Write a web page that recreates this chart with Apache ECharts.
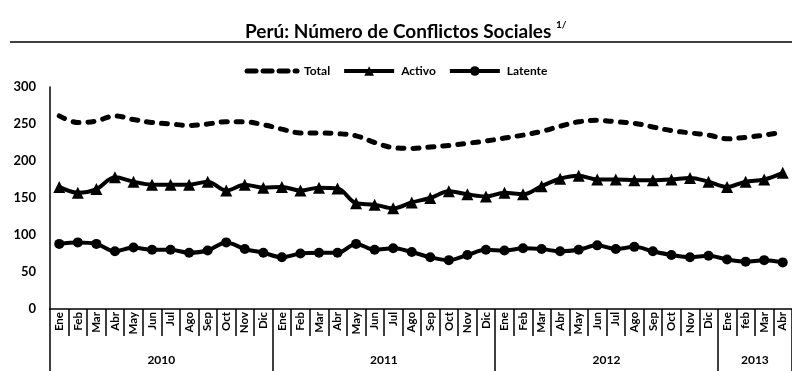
<!DOCTYPE html>
<html>
<head>
<meta charset="utf-8">
<script src="https://cdn.jsdelivr.net/npm/echarts@6/dist/echarts.min.js"></script>
<style>
  html, body { margin: 0; padding: 0; background: #fff; }
  #chart { width: 792px; height: 371px; }
</style>
</head>
<body>
<div id="chart"></div>
<script>
// Month labels, January 2010 to April 2013
const monthLabels = [
  'Ene','Feb','Mar','Abr','May','Jun','Jul','Ago','Sep','Oct','Nov','Dic',
  'Ene','Feb','Mar','Abr','May','Jun','Jul','Ago','Sep','Oct','Nov','Dic',
  'Ene','Feb','Mar','Abr','May','Jun','Jul','Ago','Sep','Oct','Nov','Dic',
  'Ene','feb','Mar','Abr'
];
const years = ['2010', '2011', '2012', '2013'];
const monthsPerYear = [12, 12, 12, 4];

// Number of social conflicts per month
const total = [261,252,254,261,256,252,250,248,250,253,253,249,
               243,238,238,237,234,225,218,217,219,221,224,227,
               231,235,240,247,253,255,253,251,246,241,238,235,
               230,232,235,239];
const activo = [165,157,162,178,172,168,168,168,172,160,168,164,
                165,160,164,163,143,141,136,144,150,159,155,152,
                157,155,166,176,180,175,175,174,174,175,177,172,
                165,172,175,184];
const latente = [88,90,88,78,83,80,80,76,79,90,81,76,
                 70,75,76,76,88,80,82,77,70,66,73,80,
                 79,82,81,78,80,86,81,84,78,73,70,72,
                 67,64,66,63];

const yTicks = { min: 0, max: 300, interval: 50 };

// Year axis works on half-month slots so year names sit centred on their span
const yearSlots = new Array(monthLabels.length * 2 + 1).fill('');
const yearBounds = [0];
const yearCentres = [];
let start = 0;
years.forEach((y, i) => {
  const centre = start + monthsPerYear[i];        // in half-month slots
  yearSlots[centre] = y;
  yearCentres.push(centre);
  start += monthsPerYear[i] * 2;
  yearBounds.push(start);
});

const FONT = 'Lato';
const chart = echarts.init(document.getElementById('chart'), null, { renderer: 'canvas' });

chart.setOption({
  backgroundColor: '#ffffff',
  animation: false,
  title: {
    text: 'Perú: Número de Conflictos Sociales {sup|1/}',
    left: 240,
    top: 15,
    textStyle: {
      fontFamily: FONT, fontSize: 19, fontWeight: 'bold', color: '#000',
      rich: {
        sup: { fontFamily: FONT, fontSize: 10, fontWeight: 'bold', color: '#000', padding: [0, 0, 13, 0] }
      }
    }
  },
  graphic: [{
    type: 'line',
    shape: { x1: 10, y1: 42, x2: 792, y2: 42 },
    style: { stroke: '#000', lineWidth: 1.5 }
  }],
  legend: {
    top: 60,
    left: 'center',
    itemWidth: 50,
    itemHeight: 12,
    itemGap: 12,
    textStyle: { fontFamily: FONT, fontSize: 12, fontWeight: 'bold', color: '#000', padding: [0, 0, 0, 2] },
    data: [
      { name: 'Total', itemStyle: { opacity: 0 }, lineStyle: { width: 5, type: [9, 7], cap: 'round' } },
      { name: 'Activo', lineStyle: { width: 4 } },
      { name: 'Latente', lineStyle: { width: 4 } }
    ]
  },
  grid: { left: 50, right: 0, top: 87, bottom: 62, containLabel: false },
  xAxis: [{
    type: 'category',
    data: monthLabels,
    boundaryGap: true,
    axisLine: { show: true, lineStyle: { color: '#000', width: 1.5 } },
    axisTick: { show: true, interval: 0, length: 27, lineStyle: { color: '#000', width: 1.5 } },
    axisLabel: {
      interval: 0, rotate: 90, margin: 3,
      fontFamily: FONT, fontSize: 11.5, fontWeight: 'bold', color: '#000'
    },
    splitLine: { show: false }
  }, {
    type: 'category',
    data: yearSlots,
    boundaryGap: false,
    position: 'bottom',
    axisLine: { show: false },
    axisTick: {
      show: true,
      interval: (idx) => yearBounds.includes(idx),
      length: 62,
      lineStyle: { color: '#000', width: 1.5 }
    },
    axisLabel: {
      interval: (idx) => yearCentres.includes(idx),
      margin: 45,
      fontFamily: FONT, fontSize: 12, fontWeight: 'bold', color: '#000'
    },
    splitLine: { show: false }
  }],
  yAxis: {
    type: 'value',
    min: yTicks.min, max: yTicks.max, interval: yTicks.interval,
    axisLine: { show: true, lineStyle: { color: '#000', width: 1.5 } },
    axisTick: { show: false },
    splitLine: { show: false },
    axisLabel: { margin: 14, fontFamily: FONT, fontSize: 13, fontWeight: 'bold', color: '#000' }
  },
  series: [{
    name: 'Total',
    type: 'line',
    data: total,
    smooth: 0.35,
    symbol: 'none',
    lineStyle: { color: '#000', width: 5, type: [6, 9], cap: 'round' },
    itemStyle: { color: '#000' }
  }, {
    name: 'Activo',
    type: 'line',
    data: activo,
    smooth: 0.35,
    symbol: 'triangle',
    symbolSize: 12,
    lineStyle: { color: '#000', width: 4 },
    itemStyle: { color: '#000' }
  }, {
    name: 'Latente',
    type: 'line',
    data: latente,
    smooth: 0.35,
    symbol: 'circle',
    symbolSize: 10,
    lineStyle: { color: '#000', width: 4 },
    itemStyle: { color: '#000' }
  }]
});
</script>
</body>
</html>
